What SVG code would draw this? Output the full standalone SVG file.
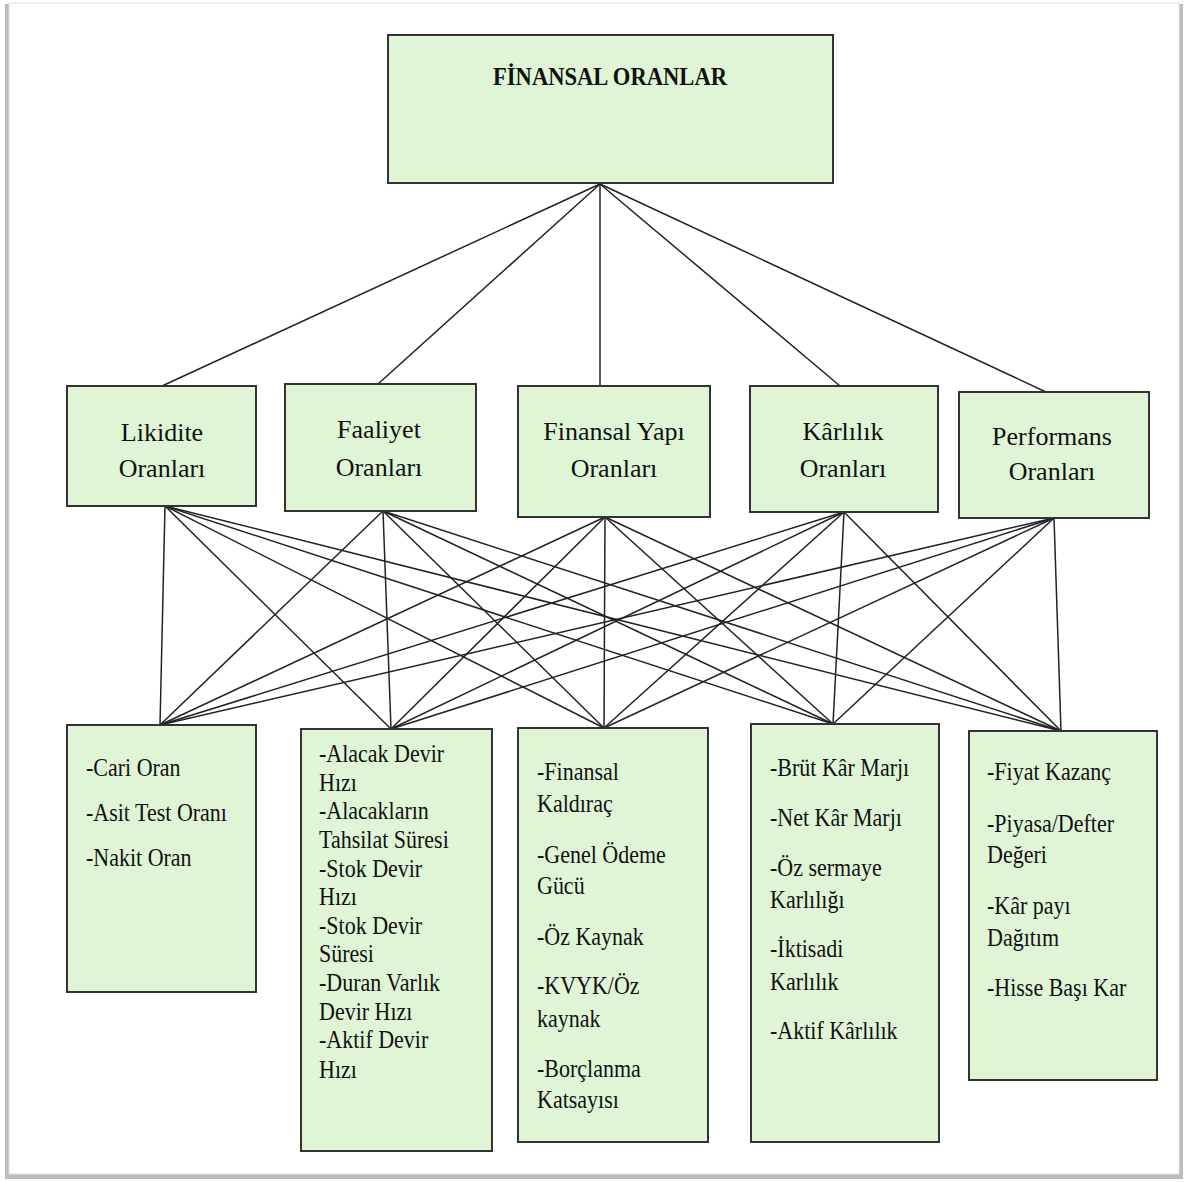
<svg xmlns="http://www.w3.org/2000/svg" width="1186" height="1182" viewBox="0 0 1186 1182">
<style>
.box{fill:#dff5d6;stroke:#333;stroke-width:2}
.c{stroke:#222;stroke-width:1.5;fill:none}
.t{font-family:"Liberation Serif","Times New Roman",serif;font-size:26px;fill:#111}
.m{text-anchor:middle}
.b{font-family:"Liberation Serif","Times New Roman",serif;font-size:25px;fill:#111}
</style>
<g id="frame">
<rect x="5" y="4" width="1178" height="1175" fill="#bdbdbd"/>
<rect x="9" y="3" width="1170" height="1171" fill="#ffffff" stroke="#e2e2e2" stroke-width="1"/>
</g>
<g id="connectors">
<line class="c" x1="600" y1="184" x2="162" y2="386"/>
<line class="c" x1="600" y1="184" x2="378" y2="384"/>
<line class="c" x1="600" y1="184" x2="600" y2="386"/>
<line class="c" x1="600" y1="184" x2="840" y2="386"/>
<line class="c" x1="600" y1="184" x2="1046" y2="392"/>
<line class="c" x1="165" y1="506" x2="160" y2="725"/>
<line class="c" x1="165" y1="506" x2="391" y2="729"/>
<line class="c" x1="165" y1="506" x2="604" y2="728"/>
<line class="c" x1="165" y1="506" x2="833" y2="724"/>
<line class="c" x1="165" y1="506" x2="1061" y2="731"/>
<line class="c" x1="383" y1="511" x2="160" y2="725"/>
<line class="c" x1="383" y1="511" x2="391" y2="729"/>
<line class="c" x1="383" y1="511" x2="604" y2="728"/>
<line class="c" x1="383" y1="511" x2="833" y2="724"/>
<line class="c" x1="383" y1="511" x2="1061" y2="731"/>
<line class="c" x1="605" y1="517" x2="160" y2="725"/>
<line class="c" x1="605" y1="517" x2="391" y2="729"/>
<line class="c" x1="605" y1="517" x2="604" y2="728"/>
<line class="c" x1="605" y1="517" x2="833" y2="724"/>
<line class="c" x1="605" y1="517" x2="1061" y2="731"/>
<line class="c" x1="844" y1="512" x2="160" y2="725"/>
<line class="c" x1="844" y1="512" x2="391" y2="729"/>
<line class="c" x1="844" y1="512" x2="604" y2="728"/>
<line class="c" x1="844" y1="512" x2="833" y2="724"/>
<line class="c" x1="844" y1="512" x2="1061" y2="731"/>
<line class="c" x1="1054" y1="518" x2="160" y2="725"/>
<line class="c" x1="1054" y1="518" x2="391" y2="729"/>
<line class="c" x1="1054" y1="518" x2="604" y2="728"/>
<line class="c" x1="1054" y1="518" x2="833" y2="724"/>
<line class="c" x1="1054" y1="518" x2="1061" y2="731"/>
</g>
<g id="finansal-oranlar">
<rect class="box" x="388" y="35" width="445" height="148"/>
<text class="t m" x="610" y="85" font-weight="bold" font-size="25" textLength="234" lengthAdjust="spacingAndGlyphs">FİNANSAL ORANLAR</text>
</g>
<g id="likidite">
<rect class="box" x="67" y="386" width="189" height="120"/>
<text class="t m" x="162" y="441">Likidite</text>
<text class="t m" x="162" y="477">Oranları</text>
</g>
<g id="faaliyet">
<rect class="box" x="285" y="384" width="191" height="127"/>
<text class="t m" x="379" y="438">Faaliyet</text>
<text class="t m" x="379" y="476">Oranları</text>
</g>
<g id="finansal-yapi">
<rect class="box" x="518" y="386" width="192" height="131"/>
<text class="t m" x="614" y="440">Finansal Yapı</text>
<text class="t m" x="614" y="477">Oranları</text>
</g>
<g id="karlilik">
<rect class="box" x="750" y="386" width="188" height="126"/>
<text class="t m" x="843" y="440">Kârlılık</text>
<text class="t m" x="843" y="477">Oranları</text>
</g>
<g id="performans">
<rect class="box" x="959" y="392" width="190" height="126"/>
<text class="t m" x="1052" y="445">Performans</text>
<text class="t m" x="1052" y="480">Oranları</text>
</g>
<g id="likidite-list">
<rect class="box" x="67" y="725" width="189" height="267"/>
<g transform="translate(86 0) scale(0.88 1)">
<text class="b" x="0" y="776">-Cari Oran</text>
<text class="b" x="0" y="821">-Asit Test Oranı</text>
<text class="b" x="0" y="866">-Nakit Oran</text>
</g>
</g>
<g id="faaliyet-list">
<rect class="box" x="301" y="729" width="191" height="422"/>
<g transform="translate(319 0) scale(0.88 1)">
<text class="b" x="0" y="762">-Alacak Devir</text>
<text class="b" x="0" y="791">Hızı</text>
<text class="b" x="0" y="819">-Alacakların</text>
<text class="b" x="0" y="848">Tahsilat Süresi</text>
<text class="b" x="0" y="877">-Stok Devir</text>
<text class="b" x="0" y="905">Hızı</text>
<text class="b" x="0" y="934">-Stok Devir</text>
<text class="b" x="0" y="962">Süresi</text>
<text class="b" x="0" y="991">-Duran Varlık</text>
<text class="b" x="0" y="1020">Devir Hızı</text>
<text class="b" x="0" y="1048">-Aktif Devir</text>
<text class="b" x="0" y="1078">Hızı</text>
</g>
</g>
<g id="finansal-yapi-list">
<rect class="box" x="518" y="728" width="190" height="414"/>
<g transform="translate(537 0) scale(0.88 1)">
<text class="b" x="0" y="780">-Finansal</text>
<text class="b" x="0" y="812">Kaldıraç</text>
<text class="b" x="0" y="863">-Genel Ödeme</text>
<text class="b" x="0" y="894">Gücü</text>
<text class="b" x="0" y="945">-Öz Kaynak</text>
<text class="b" x="0" y="994">-KVYK/Öz</text>
<text class="b" x="0" y="1027">kaynak</text>
<text class="b" x="0" y="1077">-Borçlanma</text>
<text class="b" x="0" y="1108">Katsayısı</text>
</g>
</g>
<g id="karlilik-list">
<rect class="box" x="751" y="724" width="188" height="418"/>
<g transform="translate(770 0) scale(0.88 1)">
<text class="b" x="0" y="776">-Brüt Kâr Marjı</text>
<text class="b" x="0" y="826">-Net Kâr Marjı</text>
<text class="b" x="0" y="876">-Öz sermaye</text>
<text class="b" x="0" y="908">Karlılığı</text>
<text class="b" x="0" y="957">-İktisadi</text>
<text class="b" x="0" y="990">Karlılık</text>
<text class="b" x="0" y="1039">-Aktif Kârlılık</text>
</g>
</g>
<g id="performans-list">
<rect class="box" x="969" y="731" width="188" height="349"/>
<g transform="translate(987 0) scale(0.88 1)">
<text class="b" x="0" y="780">-Fiyat Kazanç</text>
<text class="b" x="0" y="832">-Piyasa/Defter</text>
<text class="b" x="0" y="863">Değeri</text>
<text class="b" x="0" y="914">-Kâr payı</text>
<text class="b" x="0" y="946">Dağıtım</text>
<text class="b" x="0" y="996">-Hisse Başı Kar</text>
</g>
</g>
</svg>
